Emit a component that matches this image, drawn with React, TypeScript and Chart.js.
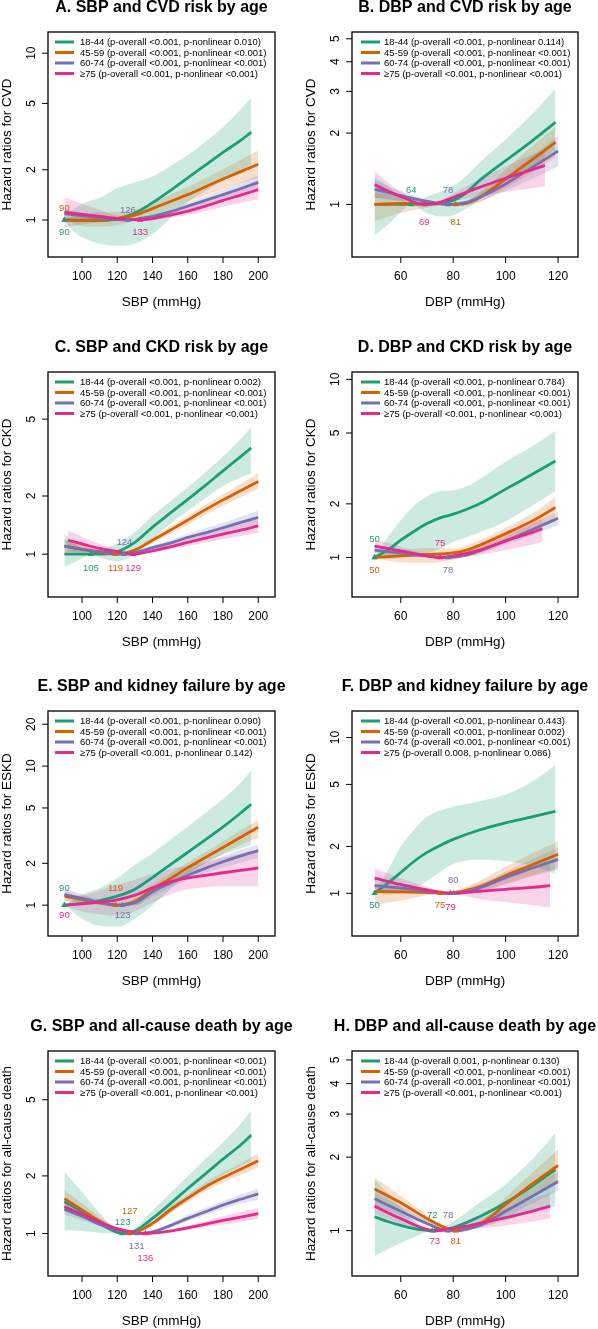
import React, { useEffect, useRef } from "react";
import { Chart, registerables } from "chart.js";

Chart.register(...registerables);

const FONT = '"Liberation Sans", Arial, Helvetica, sans-serif';
const COLORS = ["#1B9E77", "#D95F02", "#7570B3", "#E7298A"];
const BAND_COLORS = [
  "rgba(27,158,119,0.22)",
  "rgba(217,95,2,0.2)",
  "rgba(117,112,179,0.2)",
  "rgba(231,41,138,0.2)",
];
const AGE_GROUPS = ["18-44", "45-59", "60-74", "\u226575"];

const SBP_TICKS = [100, 120, 140, 160, 180, 200];
const DBP_TICKS = [60, 80, 100, 120];
const SBP_RANGE = [80.7, 209.5];
const DBP_RANGE = [41.4, 127.6];

// Each point: [blood pressure, hazard ratio, lower 95% CI, upper 95% CI]

// A. SBP and CVD
const A_18_44 = [[90, 1, 1, 1], [95, 0.995, 0.86, 1.15], [100, 0.99, 0.79, 1.25], [110, 0.99, 0.72, 1.36], [120, 1.02, 0.7, 1.55], [130, 1.1, 0.72, 1.68], [140, 1.27, 0.82, 1.82], [150, 1.5, 1.02, 2.1], [160, 1.79, 1.28, 2.45], [170, 2.13, 1.5, 2.95], [180, 2.54, 1.72, 3.6], [190, 3.0, 1.95, 4.6], [196, 3.36, 2.1, 5.4]];
const A_45_59 = [[90, 1, 1, 1], [100, 1.0, 0.92, 1.09], [110, 1.0, 0.91, 1.11], [120, 1.02, 0.93, 1.12], [130, 1.07, 0.99, 1.16], [140, 1.17, 1.07, 1.27], [150, 1.29, 1.17, 1.42], [160, 1.42, 1.28, 1.58], [170, 1.58, 1.4, 1.78], [180, 1.76, 1.53, 2.02], [190, 1.95, 1.66, 2.3], [200, 2.16, 1.78, 2.62]];
const A_60_74 = [[90, 1.09, 1.02, 1.17], [100, 1.06, 1.01, 1.11], [110, 1.03, 1.0, 1.06], [120, 1.005, 0.99, 1.02], [126, 1, 1, 1], [130, 1.01, 1.0, 1.02], [140, 1.05, 1.02, 1.08], [150, 1.12, 1.08, 1.17], [160, 1.21, 1.15, 1.27], [170, 1.31, 1.24, 1.39], [180, 1.42, 1.33, 1.52], [190, 1.54, 1.42, 1.68], [200, 1.68, 1.52, 1.85]];
const A_75 = [[90, 1.115, 0.9, 1.37], [100, 1.08, 0.94, 1.25], [110, 1.05, 0.97, 1.15], [120, 1.02, 0.99, 1.06], [133, 1, 1, 1], [140, 1.02, 1.0, 1.05], [150, 1.07, 1.03, 1.12], [160, 1.13, 1.07, 1.2], [170, 1.21, 1.13, 1.3], [180, 1.31, 1.2, 1.43], [190, 1.41, 1.27, 1.58], [200, 1.52, 1.33, 1.74]];
const A_REF = [90, 90, 126, 133];
const A_P_OVERALL = ["<0.001", "<0.001", "<0.001", "<0.001"];
const A_P_NONLINEAR = ["0.010", "<0.001", "<0.001", "<0.001"];
const A_Y_TICKS = [1, 2, 5, 10];
const A_Y_RANGE = [0.623, 13.4];

// B. DBP and CVD
const B_18_44 = [[50, 1.0, 0.74, 1.3], [55, 1.0, 0.82, 1.2], [60, 1.0, 0.93, 1.08], [64, 1, 1, 1], [70, 1.0, 0.92, 1.08], [75, 1.01, 0.89, 1.13], [80, 1.04, 0.9, 1.2], [85, 1.12, 0.96, 1.32], [90, 1.26, 1.05, 1.5], [100, 1.53, 1.25, 1.88], [110, 1.85, 1.45, 2.4], [119, 2.22, 1.7, 3.08]];
const B_45_59 = [[50, 1.0, 0.85, 1.12], [60, 1.01, 0.92, 1.08], [70, 1.01, 0.97, 1.04], [81, 1, 1, 1], [85, 1.01, 0.99, 1.03], [90, 1.07, 1.02, 1.12], [100, 1.28, 1.17, 1.4], [110, 1.54, 1.36, 1.76], [119, 1.83, 1.58, 2.12]];
const B_60_74 = [[50, 1.16, 1.07, 1.26], [60, 1.09, 1.04, 1.14], [70, 1.03, 1.01, 1.05], [78, 1, 1, 1], [85, 1.02, 1.0, 1.04], [90, 1.07, 1.03, 1.11], [100, 1.22, 1.14, 1.31], [110, 1.43, 1.28, 1.6], [120, 1.68, 1.45, 1.96]];
const B_75 = [[50, 1.21, 1.07, 1.38], [55, 1.14, 1.05, 1.24], [60, 1.08, 1.03, 1.13], [69, 1, 1, 1], [75, 1.02, 1.0, 1.04], [80, 1.07, 1.03, 1.11], [90, 1.18, 1.08, 1.28], [100, 1.29, 1.13, 1.45], [110, 1.4, 1.17, 1.62], [115, 1.46, 1.19, 1.7]];
const B_REF = [64, 81, 78, 69];
const B_P_OVERALL = ["<0.001", "<0.001", "<0.001", "<0.001"];
const B_P_NONLINEAR = ["0.114", "<0.001", "<0.001", "<0.001"];
const B_Y_TICKS = [1, 2, 3, 4, 5];
const B_Y_RANGE = [0.646, 5.34];

// C. SBP and CKD
const C_18_44 = [[90, 1.0, 0.86, 1.28], [95, 1.0, 0.9, 1.16], [100, 1.0, 0.95, 1.06], [105, 1, 1, 1], [110, 1.0, 0.96, 1.05], [120, 1.03, 0.92, 1.14], [130, 1.15, 1.0, 1.3], [140, 1.38, 1.2, 1.58], [150, 1.63, 1.43, 1.88], [160, 1.92, 1.68, 2.22], [170, 2.27, 1.95, 2.65], [180, 2.7, 2.25, 3.2], [190, 3.2, 2.5, 3.95], [196, 3.55, 2.6, 4.57]];
const C_45_59 = [[90, 1.1, 1.0, 1.2], [100, 1.06, 1.0, 1.12], [110, 1.02, 0.99, 1.05], [119, 1, 1, 1], [130, 1.05, 1.03, 1.07], [140, 1.18, 1.14, 1.22], [150, 1.33, 1.27, 1.39], [160, 1.5, 1.42, 1.58], [170, 1.7, 1.6, 1.8], [180, 1.91, 1.78, 2.04], [190, 2.13, 1.97, 2.31], [200, 2.38, 2.18, 2.62]];
const C_60_74 = [[90, 1.1, 1.03, 1.18], [100, 1.06, 1.02, 1.1], [110, 1.03, 1.0, 1.05], [124, 1, 1, 1], [130, 1.02, 1.01, 1.03], [140, 1.08, 1.05, 1.11], [150, 1.14, 1.1, 1.18], [160, 1.22, 1.17, 1.27], [170, 1.29, 1.23, 1.36], [180, 1.37, 1.29, 1.45], [190, 1.46, 1.36, 1.56], [200, 1.55, 1.43, 1.68]];
const C_75 = [[92, 1.18, 1.03, 1.33], [100, 1.13, 1.03, 1.23], [110, 1.07, 1.01, 1.13], [120, 1.03, 1.0, 1.06], [129, 1, 1, 1], [140, 1.04, 1.02, 1.06], [150, 1.09, 1.06, 1.13], [160, 1.15, 1.1, 1.2], [170, 1.21, 1.15, 1.28], [180, 1.27, 1.19, 1.36], [190, 1.33, 1.24, 1.44], [200, 1.4, 1.29, 1.52]];
const C_REF = [105, 119, 124, 129];
const C_P_OVERALL = ["<0.001", "<0.001", "<0.001", "<0.001"];
const C_P_NONLINEAR = ["0.002", "<0.001", "<0.001", "<0.001"];
const C_Y_TICKS = [1, 2, 5];
const C_Y_RANGE = [0.64, 8.77];

// D. DBP and CKD
const D_18_44 = [[50, 1, 1, 1], [55, 1.1, 0.98, 1.3], [60, 1.25, 1.0, 1.62], [65, 1.4, 1.01, 1.95], [70, 1.55, 1.05, 2.2], [75, 1.67, 1.12, 2.36], [80, 1.75, 1.22, 2.38], [85, 1.86, 1.3, 2.5], [90, 2.0, 1.38, 2.75], [100, 2.42, 1.6, 3.45], [110, 2.92, 1.95, 4.2], [119, 3.48, 2.36, 5.14]];
const D_45_59 = [[50, 1, 1, 1], [55, 1.01, 0.96, 1.06], [60, 1.02, 0.94, 1.1], [70, 1.04, 0.93, 1.13], [80, 1.06, 0.97, 1.12], [85, 1.1, 1.03, 1.17], [90, 1.17, 1.09, 1.25], [100, 1.36, 1.26, 1.47], [110, 1.6, 1.45, 1.76], [119, 1.91, 1.66, 2.18]];
const D_60_74 = [[50, 1.1, 1.03, 1.17], [60, 1.06, 1.02, 1.1], [70, 1.02, 1.0, 1.04], [78, 1, 1, 1], [85, 1.03, 1.01, 1.05], [90, 1.09, 1.05, 1.13], [100, 1.24, 1.18, 1.31], [110, 1.43, 1.33, 1.54], [120, 1.66, 1.52, 1.8]];
const D_75 = [[50, 1.16, 1.07, 1.26], [60, 1.09, 1.03, 1.15], [70, 1.02, 1.0, 1.04], [75, 1, 1, 1], [80, 1.02, 1.0, 1.04], [90, 1.1, 1.03, 1.2], [100, 1.24, 1.1, 1.4], [110, 1.38, 1.18, 1.6], [114, 1.45, 1.22, 1.68]];
const D_REF = [50, 50, 78, 75];
const D_P_OVERALL = ["<0.001", "<0.001", "<0.001", "<0.001"];
const D_P_NONLINEAR = ["0.784", "<0.001", "<0.001", "<0.001"];
const D_Y_TICKS = [1, 2, 5, 10];
const D_Y_RANGE = [0.636, 11.0];

// E. SBP and kidney failure
const E_18_44 = [[90, 1, 1, 1], [100, 1.03, 0.8, 1.2], [110, 1.08, 0.71, 1.33], [120, 1.16, 0.7, 1.57], [130, 1.3, 0.8, 1.95], [140, 1.58, 1.0, 2.36], [150, 1.95, 1.3, 2.95], [160, 2.4, 1.66, 3.67], [170, 2.95, 2.0, 4.6], [180, 3.65, 2.3, 5.8], [190, 4.6, 2.55, 7.6], [196, 5.32, 2.71, 9.3]];
const E_45_59 = [[90, 1.16, 1.07, 1.26], [100, 1.1, 1.04, 1.16], [110, 1.04, 1.01, 1.07], [119, 1, 1, 1], [130, 1.06, 1.0, 1.13], [140, 1.3, 1.2, 1.41], [150, 1.55, 1.43, 1.68], [160, 1.86, 1.7, 2.03], [170, 2.2, 2.0, 2.42], [180, 2.6, 2.34, 2.88], [190, 3.08, 2.72, 3.46], [200, 3.63, 3.05, 4.1]];
const E_60_74 = [[90, 1.19, 1.07, 1.32], [100, 1.12, 1.04, 1.2], [110, 1.05, 1.01, 1.09], [123, 1, 1, 1], [130, 1.04, 1.0, 1.09], [140, 1.25, 1.16, 1.35], [150, 1.44, 1.34, 1.56], [160, 1.64, 1.52, 1.77], [170, 1.84, 1.7, 2.0], [180, 2.05, 1.87, 2.25], [190, 2.26, 2.03, 2.5], [200, 2.47, 2.18, 2.72]];
const E_75 = [[90, 1, 1, 1], [100, 1.02, 0.9, 1.16], [110, 1.05, 0.86, 1.28], [120, 1.09, 0.84, 1.4], [130, 1.18, 0.9, 1.52], [140, 1.33, 1.05, 1.68], [150, 1.47, 1.2, 1.82], [160, 1.57, 1.3, 1.92], [170, 1.64, 1.35, 2.05], [180, 1.71, 1.37, 2.2], [190, 1.78, 1.37, 2.35], [200, 1.85, 1.37, 2.5]];
const E_REF = [90, 119, 123, 90];
const E_P_OVERALL = ["<0.001", "<0.001", "<0.001", "<0.001"];
const E_P_NONLINEAR = ["0.090", "<0.001", "<0.001", "0.142"];
const E_Y_TICKS = [1, 2, 5, 10, 20];
const E_Y_RANGE = [0.617, 24.9];

// F. DBP and kidney failure
const F_18_44 = [[50, 1, 1, 1], [55, 1.16, 0.98, 1.4], [60, 1.36, 1.0, 2.0], [65, 1.6, 1.08, 2.55], [70, 1.83, 1.2, 3.1], [75, 2.03, 1.37, 3.4], [80, 2.22, 1.54, 3.6], [90, 2.55, 1.65, 3.9], [100, 2.83, 1.61, 4.3], [110, 3.09, 1.5, 5.2], [119, 3.36, 1.33, 6.67]];
const F_45_59 = [[50, 1.03, 0.84, 1.12], [60, 1.02, 0.9, 1.08], [70, 1.01, 0.97, 1.03], [75, 1, 1, 1], [80, 1.01, 0.98, 1.04], [90, 1.1, 1.02, 1.2], [100, 1.3, 1.15, 1.48], [110, 1.52, 1.3, 1.8], [120, 1.78, 1.46, 2.16]];
const F_60_74 = [[50, 1.12, 1.02, 1.23], [60, 1.08, 1.02, 1.14], [70, 1.03, 1.0, 1.06], [80, 1, 1, 1], [90, 1.08, 1.03, 1.13], [100, 1.26, 1.14, 1.38], [110, 1.45, 1.28, 1.65], [120, 1.65, 1.42, 1.95]];
const F_75 = [[50, 1.25, 1.07, 1.45], [60, 1.14, 1.04, 1.25], [70, 1.05, 1.01, 1.1], [79, 1, 1, 1], [90, 1.03, 0.92, 1.16], [100, 1.06, 0.88, 1.3], [110, 1.09, 0.84, 1.45], [117, 1.12, 0.81, 1.58]];
const F_REF = [50, 75, 80, 79];
const F_P_OVERALL = ["<0.001", "<0.001", "<0.001", "0.008"];
const F_P_NONLINEAR = ["0.443", "0.002", "<0.001", "0.086"];
const F_Y_TICKS = [1, 2, 5, 10];
const F_Y_RANGE = [0.532, 14.8];

// G. SBP and all-cause death
const G_18_44 = [[90, 1.47, 1.04, 2.11], [100, 1.3, 1.03, 1.65], [110, 1.13, 1.01, 1.28], [123, 1, 1, 1], [130, 1.03, 1.0, 1.07], [140, 1.2, 1.1, 1.32], [150, 1.43, 1.27, 1.62], [160, 1.72, 1.5, 2.0], [170, 2.05, 1.75, 2.45], [180, 2.45, 2.02, 3.0], [190, 2.9, 2.25, 3.75], [196, 3.27, 2.4, 4.38]];
const G_45_59 = [[90, 1.52, 1.36, 1.69], [100, 1.33, 1.22, 1.44], [110, 1.16, 1.1, 1.22], [120, 1.04, 1.02, 1.06], [127, 1, 1, 1], [140, 1.13, 1.1, 1.16], [150, 1.33, 1.28, 1.38], [160, 1.53, 1.46, 1.6], [170, 1.75, 1.66, 1.85], [180, 1.96, 1.84, 2.09], [190, 2.17, 2.02, 2.34], [200, 2.4, 2.22, 2.62]];
const G_60_74 = [[90, 1.34, 1.26, 1.43], [100, 1.23, 1.17, 1.29], [110, 1.12, 1.09, 1.16], [120, 1.04, 1.02, 1.06], [131, 1, 1, 1], [140, 1.02, 1.01, 1.03], [150, 1.1, 1.07, 1.13], [160, 1.2, 1.16, 1.25], [170, 1.3, 1.25, 1.36], [180, 1.41, 1.34, 1.48], [190, 1.51, 1.43, 1.6], [200, 1.61, 1.5, 1.72]];
const G_75 = [[90, 1.38, 1.3, 1.47], [100, 1.26, 1.2, 1.32], [110, 1.15, 1.11, 1.19], [120, 1.06, 1.04, 1.08], [136, 1, 1, 1], [150, 1.03, 1.02, 1.05], [160, 1.07, 1.04, 1.1], [170, 1.12, 1.08, 1.16], [180, 1.17, 1.11, 1.23], [190, 1.22, 1.15, 1.3], [200, 1.27, 1.19, 1.36]];
const G_REF = [123, 127, 131, 136];
const G_P_OVERALL = ["<0.001", "<0.001", "<0.001", "<0.001"];
const G_P_NONLINEAR = ["<0.001", "<0.001", "<0.001", "<0.001"];
const G_Y_TICKS = [1, 2, 5];
const G_Y_RANGE = [0.638, 8.99];

// H. DBP and all-cause death
const H_18_44 = [[50, 1.14, 0.79, 1.62], [55, 1.09, 0.84, 1.42], [60, 1.05, 0.89, 1.25], [65, 1.02, 0.94, 1.1], [72, 1, 1, 1], [80, 1.03, 0.98, 1.09], [90, 1.14, 1.03, 1.3], [100, 1.3, 1.1, 1.55], [110, 1.52, 1.2, 1.95], [119, 1.78, 1.26, 2.51]];
const H_45_59 = [[50, 1.48, 1.35, 1.65], [60, 1.3, 1.22, 1.39], [70, 1.12, 1.08, 1.16], [75, 1.05, 1.03, 1.07], [81, 1, 1, 1], [90, 1.06, 1.03, 1.09], [100, 1.28, 1.2, 1.37], [110, 1.55, 1.4, 1.72], [120, 1.85, 1.6, 2.15]];
const H_60_74 = [[50, 1.35, 1.27, 1.44], [60, 1.2, 1.15, 1.26], [70, 1.07, 1.05, 1.1], [78, 1, 1, 1], [90, 1.05, 1.03, 1.08], [100, 1.2, 1.14, 1.26], [110, 1.38, 1.29, 1.49], [120, 1.59, 1.45, 1.75]];
const H_75 = [[50, 1.26, 1.17, 1.38], [60, 1.12, 1.07, 1.18], [73, 1, 1, 1], [80, 1.02, 1.0, 1.04], [90, 1.07, 1.02, 1.12], [100, 1.13, 1.05, 1.23], [110, 1.2, 1.09, 1.35], [117, 1.26, 1.12, 1.43]];
const H_REF = [72, 81, 78, 73];
const H_P_OVERALL = ["0.001", "<0.001", "<0.001", "<0.001"];
const H_P_NONLINEAR = ["0.130", "<0.001", "<0.001", "<0.001"];
const H_Y_TICKS = [1, 2, 3, 4, 5];
const H_Y_RANGE = [0.652, 5.44];

// Vertical offsets (px) of the reference-value labels from the HR = 1 line
const A_LABEL_DY = [12, -12, -10, 12];
const B_LABEL_DY = [-14, 18, -14, 18];
const C_LABEL_DY = [14, 14, -12, 14];
const D_LABEL_DY = [-18, 13, 13, -14];
const E_LABEL_DY = [-17, -17, 10, 10];
const F_LABEL_DY = [12, 12, -13, 14];
const G_LABEL_DY = [-11, -22, 13, 25];
const H_LABEL_DY = [-15, 11, -15, 11];

type Pt = number[];
interface PanelDef {
  title: string;
  xTitle: string;
  yTitle: string;
  col: number;
  row: number;
  series: Pt[][];
  refs: number[];
  pOverall: string[];
  pNonlinear: string[];
  yTicks: number[];
  yRange: number[];
  labelDy: number[];
}

const PANELS: PanelDef[] = [
  { title: "A. SBP and CVD risk by age", xTitle: "SBP (mmHg)", yTitle: "Hazard ratios for CVD", col: 0, row: 0, series: [A_18_44, A_45_59, A_60_74, A_75], refs: A_REF, pOverall: A_P_OVERALL, pNonlinear: A_P_NONLINEAR, yTicks: A_Y_TICKS, yRange: A_Y_RANGE, labelDy: A_LABEL_DY },
  { title: "B. DBP and CVD risk by age", xTitle: "DBP (mmHg)", yTitle: "Hazard ratios for CVD", col: 1, row: 0, series: [B_18_44, B_45_59, B_60_74, B_75], refs: B_REF, pOverall: B_P_OVERALL, pNonlinear: B_P_NONLINEAR, yTicks: B_Y_TICKS, yRange: B_Y_RANGE, labelDy: B_LABEL_DY },
  { title: "C. SBP and CKD risk by age", xTitle: "SBP (mmHg)", yTitle: "Hazard ratios for CKD", col: 0, row: 1, series: [C_18_44, C_45_59, C_60_74, C_75], refs: C_REF, pOverall: C_P_OVERALL, pNonlinear: C_P_NONLINEAR, yTicks: C_Y_TICKS, yRange: C_Y_RANGE, labelDy: C_LABEL_DY },
  { title: "D. DBP and CKD risk by age", xTitle: "DBP (mmHg)", yTitle: "Hazard ratios for CKD", col: 1, row: 1, series: [D_18_44, D_45_59, D_60_74, D_75], refs: D_REF, pOverall: D_P_OVERALL, pNonlinear: D_P_NONLINEAR, yTicks: D_Y_TICKS, yRange: D_Y_RANGE, labelDy: D_LABEL_DY },
  { title: "E. SBP and kidney failure by age", xTitle: "SBP (mmHg)", yTitle: "Hazard ratios for ESKD", col: 0, row: 2, series: [E_18_44, E_45_59, E_60_74, E_75], refs: E_REF, pOverall: E_P_OVERALL, pNonlinear: E_P_NONLINEAR, yTicks: E_Y_TICKS, yRange: E_Y_RANGE, labelDy: E_LABEL_DY },
  { title: "F. DBP and kidney failure by age", xTitle: "DBP (mmHg)", yTitle: "Hazard ratios for ESKD", col: 1, row: 2, series: [F_18_44, F_45_59, F_60_74, F_75], refs: F_REF, pOverall: F_P_OVERALL, pNonlinear: F_P_NONLINEAR, yTicks: F_Y_TICKS, yRange: F_Y_RANGE, labelDy: F_LABEL_DY },
  { title: "G. SBP and all-cause death by age", xTitle: "SBP (mmHg)", yTitle: "Hazard ratios for all-cause death", col: 0, row: 3, series: [G_18_44, G_45_59, G_60_74, G_75], refs: G_REF, pOverall: G_P_OVERALL, pNonlinear: G_P_NONLINEAR, yTicks: G_Y_TICKS, yRange: G_Y_RANGE, labelDy: G_LABEL_DY },
  { title: "H. DBP and all-cause death by age", xTitle: "DBP (mmHg)", yTitle: "Hazard ratios for all-cause death", col: 1, row: 3, series: [H_18_44, H_45_59, H_60_74, H_75], refs: H_REF, pOverall: H_P_OVERALL, pNonlinear: H_P_NONLINEAR, yTicks: H_Y_TICKS, yRange: H_Y_RANGE, labelDy: H_LABEL_DY },
];

const CANVAS_W = 299;
const CANVAS_H = 310;
const ROW_TOPS = [0, 340, 679, 1019];
const PAD_TOP = 32;
const PAD_BOTTOM = 53;
const PAD_SIDES = [
  { left: 48, right: 24 },
  { left: 53, right: 20 },
];

// Draws the R-style frame: box, outward ticks, rotated y labels, titles, legend, reference labels
function framePlugin(def: PanelDef) {
  return {
    id: "frame",
    afterDatasetsDraw(chart: any) {
      const { ctx, chartArea: a } = chart;
      const xs = chart.scales.x;
      const ys = chart.scales.y;
      const isSBP = def.col === 0;
      const xTicks = isSBP ? SBP_TICKS : DBP_TICKS;
      ctx.save();

      ctx.strokeStyle = "#000";
      ctx.lineWidth = 1.3;
      ctx.strokeRect(a.left, a.top, a.right - a.left, a.bottom - a.top);

      ctx.lineWidth = 1;
      ctx.fillStyle = "#000";
      ctx.font = `12px ${FONT}`;
      ctx.textAlign = "center";
      ctx.textBaseline = "middle";
      for (const t of xTicks) {
        const x = xs.getPixelForValue(t);
        ctx.beginPath();
        ctx.moveTo(x, a.bottom);
        ctx.lineTo(x, a.bottom + 6);
        ctx.stroke();
        ctx.fillText(String(t), x, a.bottom + 20);
      }
      for (const t of def.yTicks) {
        const y = ys.getPixelForValue(t);
        ctx.beginPath();
        ctx.moveTo(a.left, y);
        ctx.lineTo(a.left - 6, y);
        ctx.stroke();
        ctx.save();
        ctx.translate(a.left - 16, y);
        ctx.rotate(-Math.PI / 2);
        ctx.fillText(String(t), 0, 0);
        ctx.restore();
      }

      ctx.font = `13.5px ${FONT}`;
      ctx.fillText(def.xTitle, (a.left + a.right) / 2, a.bottom + 45);
      ctx.save();
      ctx.translate(a.left - 41, (a.top + a.bottom) / 2);
      ctx.rotate(-Math.PI / 2);
      ctx.fillText(def.yTitle, 0, 0);
      ctx.restore();

      ctx.font = `bold 16px ${FONT}`;
      ctx.fillText(def.title, (a.left + a.right) / 2, a.top - 24.5);

      // legend
      ctx.font = `9.5px ${FONT}`;
      ctx.textAlign = "left";
      const lx0 = a.left + (isSBP ? 7 : 9);
      const rowY = [10, 20.5, 31, 41.5];
      for (let i = 0; i < 4; i++) {
        const y = a.top + rowY[i];
        ctx.strokeStyle = COLORS[i];
        ctx.lineWidth = 3;
        ctx.beginPath();
        ctx.moveTo(lx0, y);
        ctx.lineTo(lx0 + 19, y);
        ctx.stroke();
        ctx.fillStyle = "#000";
        ctx.fillText(
          `${AGE_GROUPS[i]} (p-overall ${def.pOverall[i]}, p-nonlinear ${def.pNonlinear[i]})`,
          a.left + 32,
          y + 0.5
        );
      }

      // reference-value labels
      ctx.font = `9.5px ${FONT}`;
      ctx.textAlign = "center";
      const y1 = ys.getPixelForValue(1);
      for (let i = 0; i < 4; i++) {
        ctx.fillStyle = COLORS[i];
        ctx.fillText(String(def.refs[i]), xs.getPixelForValue(def.refs[i]), y1 + def.labelDy[i]);
      }
      ctx.restore();
    },
  };
}

function PanelChart({ def }: { def: PanelDef }) {
  const ref = useRef<HTMLCanvasElement>(null);
  useEffect(() => {
    const canvas = ref.current;
    if (!canvas) return;
    const isSBP = def.col === 0;
    const xr = isSBP ? SBP_RANGE : DBP_RANGE;
    const datasets: any[] = [];

    // reference-point triangles
    def.series.forEach((_, i) => {
      datasets.push({
        data: [{ x: def.refs[i], y: 1 }],
        showLine: false,
        pointStyle: "triangle",
        pointRadius: 3.5,
        pointBackgroundColor: COLORS[i],
        pointBorderColor: COLORS[i],
        pointBorderWidth: 0,
        borderColor: COLORS[i],
        order: 0,
      });
    });
    // hazard ratio curves
    def.series.forEach((pts, i) => {
      datasets.push({
        data: pts.map((p) => ({ x: p[0], y: p[1] })),
        borderColor: COLORS[i],
        borderWidth: 2.8,
        pointRadius: 0,
        fill: false,
        cubicInterpolationMode: "monotone",
        order: 4 - i,
      });
    });
    // confidence bands: upper bound filled down to lower bound
    def.series.forEach((pts, i) => {
      datasets.push({
        data: pts.map((p) => ({ x: p[0], y: p[3] })),
        borderColor: "rgba(0,0,0,0)",
        borderWidth: 0,
        pointRadius: 0,
        fill: "+1",
        backgroundColor: BAND_COLORS[i],
        cubicInterpolationMode: "monotone",
        order: 10 + i,
      });
      datasets.push({
        data: pts.map((p) => ({ x: p[0], y: p[2] })),
        borderColor: "rgba(0,0,0,0)",
        borderWidth: 0,
        pointRadius: 0,
        fill: false,
        cubicInterpolationMode: "monotone",
        order: 10 + i,
      });
    });

    const pad = PAD_SIDES[def.col];
    const chart = new Chart(canvas, {
      type: "line",
      data: { datasets },
      options: {
        animation: false,
        responsive: false,
        devicePixelRatio: 1,
        events: [],
        layout: { padding: { left: pad.left, right: pad.right, top: PAD_TOP, bottom: PAD_BOTTOM } },
        scales: {
          x: { type: "linear", min: xr[0], max: xr[1], display: false },
          y: { type: "logarithmic", min: def.yRange[0], max: def.yRange[1], display: false },
        },
        plugins: {
          legend: { display: false },
          tooltip: { enabled: false },
          title: { display: false },
        },
      } as any,
      plugins: [framePlugin(def)],
    });
    return () => chart.destroy();
  }, [def]);

  return (
    <canvas
      ref={ref}
      width={CANVAS_W}
      height={CANVAS_H}
      style={{
        position: "absolute",
        left: def.col * CANVAS_W,
        top: ROW_TOPS[def.row],
        width: CANVAS_W,
        height: CANVAS_H,
      }}
    />
  );
}

export default function App() {
  return (
    <div
      style={{
        position: "absolute",
        left: 0,
        top: 0,
        width: 598,
        height: 1329,
        overflow: "hidden",
        background: "#fff",
      }}
    >
      {PANELS.map((p) => (
        <PanelChart key={p.title} def={p} />
      ))}
    </div>
  );
}
